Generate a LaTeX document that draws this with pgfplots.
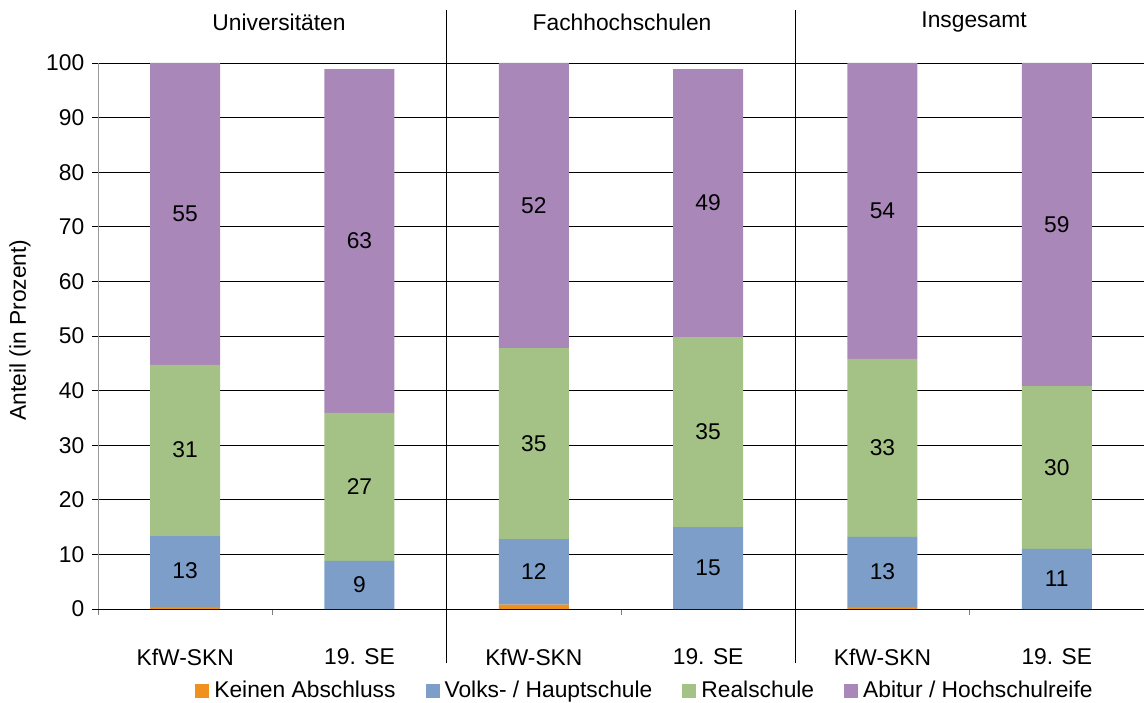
\documentclass[border=0pt]{standalone}
\usepackage{fontspec}
\setmainfont{Liberation Sans}
\usepackage{pgfplots}
\pgfplotsset{compat=1.18}
\definecolor{cOr}{RGB}{240,144,30}
\definecolor{cBl}{RGB}{124,158,200}
\definecolor{cGr}{RGB}{164,194,134}
\definecolor{cPu}{RGB}{170,135,185}
\begin{document}
\fontsize{22.8}{27}\selectfont
\begin{tikzpicture}
\pgfplotsset{
  base/.style={
    at={(0,0)}, anchor=south west,
    scale only axis, width=1046pt, height=546pt,
    xmin=-0.5, xmax=5.5, ymin=0, ymax=100,
    clip=false,
  },
  lg/.style={legend image code/.code={\fill[##1] (0pt,-7pt) rectangle (14pt,7pt);}},
}
\useasboundingbox (-98pt,-93pt) rectangle (1046pt,609pt);
\begin{axis}[base,
  ybar stacked, bar width=70pt,
  axis lines*=left,
  axis line style={-},
  x axis line style={black, line width=0.8pt},
  y axis line style={gray!80, line width=0.8pt},
  ytick={0,10,...,100},
  ymajorgrids, grid style={black, line width=0.8pt},
  tick align=outside,
  major tick length=6pt,
  minor tick length=6pt,
  ytick style={black, line width=0.8pt},
  xtick={0,...,5},
  xticklabels={KfW-SKN,19. SE,KfW-SKN,19. SE,KfW-SKN,19. SE},
  major x tick style={draw=none},
  minor xtick={-0.5,0.5,1.5,2.5,3.5,4.5},
  minor x tick style={gray, line width=0.8pt},
  xticklabel style={yshift=-26pt},
  /pgf/number format/assume math mode=true,
  ylabel={Anteil (in Prozent)},
  ylabel style={at={(axis description cs:-0.0746,0.511)}, anchor=center},
  legend style={at={(axis description cs:0.5229,-0.1496)}, anchor=center,
    draw=none, fill=none, legend columns=4,
    /tikz/every odd column/.append style={column sep=3pt},
    /tikz/every even column/.append style={column sep=28pt}},
]
\addplot[fill=cOr, draw=none, lg] coordinates {(0,0.4) (1,0) (2,0.8) (3,0) (4,0.4) (5,0)};
\addplot[fill=cBl, draw=none, lg] coordinates {(0,13.1) (1,8.8) (2,12.0) (3,15.0) (4,12.8) (5,11.0)};
\addplot[fill=cGr, draw=none, lg] coordinates {(0,31.2) (1,27.1) (2,35.0) (3,34.8) (4,32.6) (5,29.8)};
\addplot[fill=cPu, draw=none, lg] coordinates {(0,55.3) (1,63.0) (2,52.2) (3,49.1) (4,54.2) (5,59.2)};
\legend{Keinen Abschluss, Volks- / Hauptschule, Realschule, Abitur / Hochschulreife}
\node at (axis cs:0.538,107.5) {Universitäten};
\node at (axis cs:2.506,107.5) {Fachhochschulen};
\node at (axis cs:4.525,107.5) {Insgesamt};
\draw[black, line width=0.8pt] (axis cs:1.5,-9.9) -- (axis cs:1.5,109.7);
\draw[black, line width=0.8pt] (axis cs:3.5,-9.9) -- (axis cs:3.5,109.7);
\end{axis}
\begin{axis}[base, hide axis]
\addplot[draw=none, nodes near coords, point meta=explicit symbolic,
  nodes near coords style={anchor=center, text=black}]
  coordinates {
  (0,6.95)[13] (1,4.4)[9] (2,6.8)[12] (3,7.5)[15] (4,6.8)[13] (5,5.5)[11]
  (0,29.1)[31] (1,22.35)[27] (2,30.3)[35] (3,32.4)[35] (4,29.5)[33] (5,25.9)[30]
  (0,72.35)[55] (1,67.4)[63] (2,73.9)[52] (3,74.35)[49] (4,72.9)[54] (5,70.4)[59]
  };
\end{axis}
\end{tikzpicture}
\end{document}
